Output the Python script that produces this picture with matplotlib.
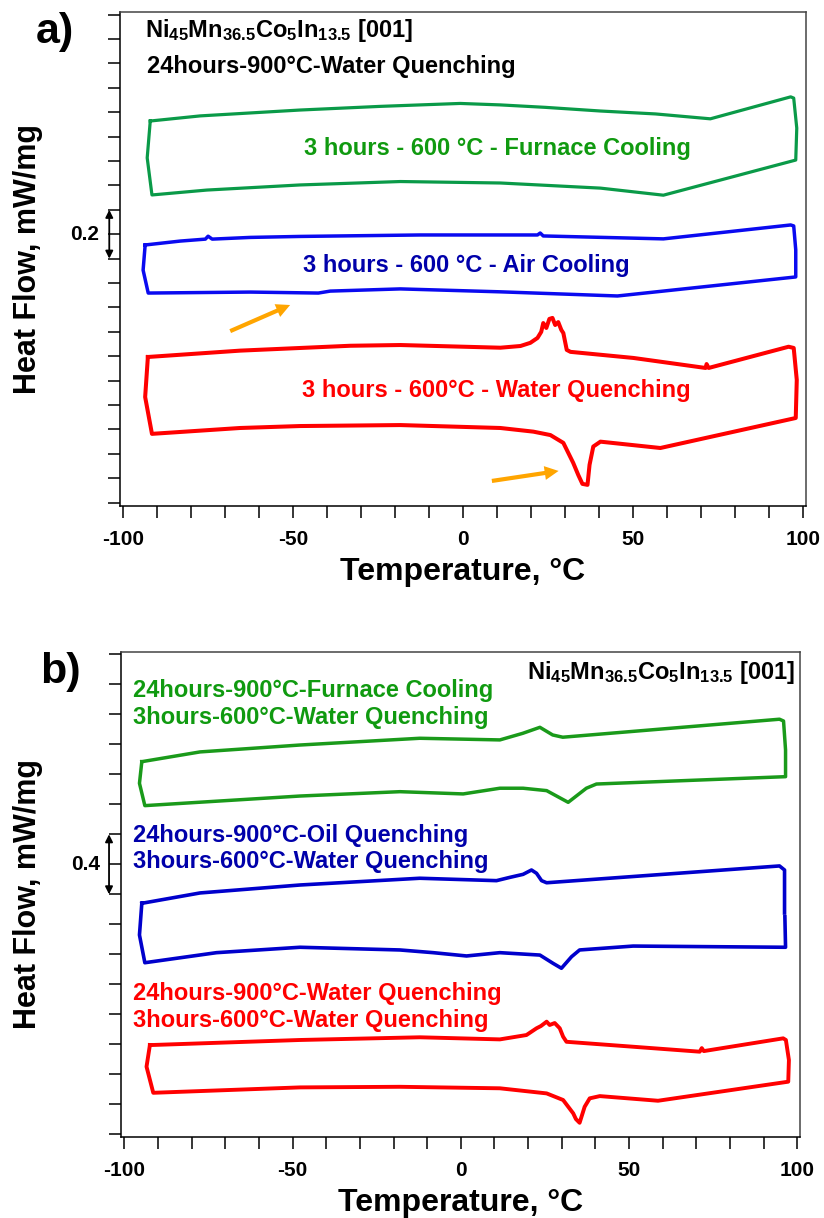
import numpy as np
import matplotlib.pyplot as plt
from matplotlib.ticker import MultipleLocator, NullFormatter

plt.rcParams['font.family'] = ['Liberation Sans', 'DejaVu Sans']
plt.rcParams['font.weight'] = 'bold'
plt.rcParams['mathtext.fontset'] = 'custom'
plt.rcParams['mathtext.rm'] = 'Liberation Sans:bold'
plt.rcParams['mathtext.default'] = 'regular'
plt.rcParams['axes.unicode_minus'] = False

# ---- panel a) : 24h-900C-WQ, then 3h-600C with different cooling ----
# each loop is one closed DSC cycle (upper branch, right end, lower branch, left end)
a_wq_T = [-92.6, -65.5, -33.1, -18.4, 11.0, 16.9, 19.8, 21.9, 23.0, 23.6, 24.5, 25.4, 26.3, 27.1, 28.0,
          28.9, 29.5, 30.5, 31.6, 50.1, 71.3, 71.6, 72.2, 95.7, 97.2, 98.1, 97.8, 58.0, 40.4, 38.3,
          37.2, 36.6, 35.1, 33.9, 32.4, 29.5, 25.7, 20.7, 11.0, -18.4, -47.9, -65.5, -91.4, -93.4, -92.6]
a_wq_HF = [0.597, 0.623, 0.643, 0.646, 0.635, 0.642, 0.655, 0.675, 0.700, 0.736, 0.716, 0.753, 0.757, 0.728, 0.740,
           0.708, 0.695, 0.626, 0.618, 0.593, 0.552, 0.568, 0.552, 0.639, 0.634, 0.503, 0.347, 0.224, 0.250, 0.230,
           0.155, 0.073, 0.077, 0.113, 0.163, 0.245, 0.277, 0.291, 0.306, 0.318, 0.314, 0.306, 0.282, 0.433, 0.597]

a_ac_T = [-93.4, -83.1, -75.7, -74.9, -73.7, -62.5, -47.9, -12.6, 21.9, 22.7, 23.6, 58.9, 96.3, 97.2,
          97.8, 97.8, 45.4, 11.0, -18.4, -39.0, -42.5, -62.5, -92.5, -94.0, -93.4]
a_ac_HF = [1.056, 1.072, 1.080, 1.092, 1.080, 1.087, 1.091, 1.097, 1.097, 1.105, 1.093, 1.081, 1.138, 1.134,
           1.036, 0.925, 0.847, 0.864, 0.876, 0.867, 0.859, 0.863, 0.859, 0.953, 1.056]

a_fc_T = [-91.9, -77.2, -47.9, -24.3, -12.6, -0.8, 11.0, 24.2, 40.4, 56.6, 72.7, 96.3, 97.2, 98.1, 97.8,
          58.9, 40.4, 11.0, -18.4, -47.9, -75.3, -91.4, -92.8, -91.9]
a_fc_HF = [1.564, 1.585, 1.609, 1.624, 1.630, 1.636, 1.630, 1.620, 1.605, 1.593, 1.573, 1.663, 1.658, 1.535, 1.404,
           1.260, 1.289, 1.310, 1.316, 1.302, 1.281, 1.261, 1.413, 1.564]

# ---- panel b) : 3h-600C-WQ after different 900C treatments ----
b_fc_T = [-94.8, -77.5, -47.8, -12.2, 11.6, 18.4, 23.5, 27.3, 30.3, 94.7, 95.9, 96.5, 96.5, 40.3, 37.3,
          31.9, 25.5, 18.5, 11.6, 0.7, -18.1, -47.8, -93.9, -95.5, -94.8]
b_fc_HF = [2.484, 2.549, 2.595, 2.640, 2.629, 2.673, 2.713, 2.662, 2.647, 2.767, 2.755, 2.562, 2.384, 2.335, 2.307,
           2.213, 2.291, 2.307, 2.307, 2.269, 2.284, 2.255, 2.191, 2.340, 2.484]

b_oq_T = [-94.8, -77.5, -47.8, -12.2, 10.6, 14.6, 18.5, 21.0, 22.5, 24.0, 25.5, 94.7, 96.2, 96.2, np.nan,
          96.3, 96.5, 51.2, 35.3, 32.9, 29.9, 27.4, 23.5, 11.6, 1.7, -8.2, -18.1, -47.8, -72.6, -93.9, -95.5, -94.8]
b_oq_HF = [1.540, 1.609, 1.662, 1.707, 1.691, 1.713, 1.733, 1.762, 1.740, 1.691, 1.677, 1.789, 1.762, 1.475, np.nan,
           1.450, 1.247, 1.255, 1.229, 1.184, 1.107, 1.140, 1.195, 1.211, 1.189, 1.211, 1.229, 1.247, 1.211, 1.144, 1.329, 1.540]

b_wq_T = [-92.4, -47.8, -12.2, 11.6, 19.5, 22.5, 23.8, 25.5, 26.4, 27.9, 29.4, 30.4, 31.4, 71.0, 71.6, 72.2,
          95.8, 96.6, 97.5, 97.3, 58.6, 41.3, 38.3, 36.8, 35.3, 34.2, 33.4, 30.4, 25.5, 11.6, -18.1, -47.8,
          -91.4, -93.4, -92.4]
b_wq_HF = [0.595, 0.629, 0.647, 0.633, 0.662, 0.707, 0.722, 0.751, 0.729, 0.742, 0.707, 0.651, 0.617, 0.551, 0.575, 0.555,
           0.640, 0.629, 0.495, 0.351, 0.224, 0.255, 0.240, 0.184, 0.077, 0.102, 0.140, 0.229, 0.273, 0.307, 0.317, 0.313,
           0.277, 0.451, 0.595]

# orange guide arrows in panel a (tail, head)
arrow1 = [(-68.4, 0.703), (-50.8, 0.810)]
arrow2 = [(8.5, 0.089), (28.1, 0.130)]

GREEN_A, GREEN_B = '#0a9a48', '#1a9a1a'
BLUE_A, BLUE_B = '#0a0af0', '#0000cc'
RED = '#ff0000'
GREEN_T, BLUE_T = '#109a10', '#0000aa'


def style_axes(ax, xlim, ylim, ystep):
    ax.set_xlim(*xlim)
    ax.set_ylim(*ylim)
    ax.xaxis.set_major_locator(MultipleLocator(50))
    ax.xaxis.set_minor_locator(MultipleLocator(10))
    ax.yaxis.set_major_locator(MultipleLocator(ystep))
    ax.yaxis.set_major_formatter(NullFormatter())
    ax.tick_params(which='both', direction='out', length=8.3, width=1.1, top=False, right=False)
    ax.tick_params(axis='x', labelsize=15, pad=9)
    for s in ax.spines.values():
        s.set_linewidth(1.1)
    ax.spines['top'].set_color('#444444')
    ax.spines['right'].set_color('#444444')
    ax.set_xlabel('Temperature, °C', fontsize=23, fontweight='bold', labelpad=6)
    ax.set_ylabel('Heat Flow, mW/mg', fontsize=22, fontweight='bold')


def scale_bar(ax, x, y0, y1, label, lx):
    tr = ax.get_yaxis_transform()
    ax.annotate('', xy=(x, y0), xytext=(x, y1), xycoords=tr, textcoords=tr,
                arrowprops=dict(arrowstyle='<|-|>', color='black', lw=1.3,
                                mutation_scale=11, shrinkA=0, shrinkB=0),
                annotation_clip=False)
    ax.text(lx, (y0 + y1) / 2, label, transform=tr, ha='right', va='center',
            fontsize=15, fontweight='bold')


fig = plt.figure(figsize=(8.24, 12.18), dpi=100)

# ------------------ a) ------------------
ax1 = fig.add_axes([0.1456, 0.5846, 0.8325, 0.4056])
ax1.plot(a_fc_T, a_fc_HF, color=GREEN_A, lw=2.3)
ax1.plot(a_ac_T, a_ac_HF, color=BLUE_A, lw=2.5)
ax1.plot(a_wq_T, a_wq_HF, color=RED, lw=2.9)
style_axes(ax1, (-100.8, 100.8), (-0.0135, 2.011), 0.1)
ax1.yaxis.set_label_coords(-0.112, 0.5)
scale_bar(ax1, -0.0156, 1.0, 1.2, '0.2', -0.0306)

ax1.text(-93.4, 1.910, 'Ni$_{45}$Mn$_{36.5}$Co$_{5}$In$_{13.5}$ [001]', fontsize=17,
         fontweight='bold', ha='left', va='baseline')
ax1.text(-92.8, 1.761, '24hours-900°C-Water Quenching', fontsize=17,
         fontweight='bold', ha='left', va='baseline')
ax1.text(10.2, 1.425, '3 hours - 600 °C - Furnace Cooling', color=GREEN_T, fontsize=17,
         fontweight='bold', ha='center', va='baseline')
ax1.text(1.1, 0.945, '3 hours - 600 °C - Air Cooling', color=BLUE_T, fontsize=17,
         fontweight='bold', ha='center', va='baseline')
ax1.text(9.7, 0.434, '3 hours - 600°C - Water Quenching', color=RED, fontsize=17,
         fontweight='bold', ha='center', va='baseline')

for tail, head in (arrow1, arrow2):
    ax1.annotate('', xy=head, xytext=tail,
                 arrowprops=dict(facecolor='#ffa500', edgecolor='none', width=3,
                                 headwidth=10, headlength=10, shrink=0))

fig.text(0.066, 0.974, 'a)', fontsize=31, fontweight='bold', ha='center', va='center')

# ------------------ b) ------------------
ax2 = fig.add_axes([0.1465, 0.0667, 0.8244, 0.398])
ax2.plot(b_fc_T, b_fc_HF, color=GREEN_B, lw=2.5)
ax2.plot(b_oq_T, b_oq_HF, color=BLUE_B, lw=2.6)
ax2.plot(b_wq_T, b_wq_HF, color=RED, lw=2.8)
style_axes(ax2, (-101.07, 100.8), (-0.016, 3.215), 0.2)
ax2.yaxis.set_label_coords(-0.1144, 0.5)
scale_bar(ax2, -0.0172, 1.6, 2.0, '0.4', -0.0305)

ax2.text(99.2, 3.033, 'Ni$_{45}$Mn$_{36.5}$Co$_{5}$In$_{13.5}$ [001]', fontsize=17,
         fontweight='bold', ha='right', va='baseline')
ax2.text(-97.3, 2.917, '24hours-900°C-Furnace Cooling', color=GREEN_T, fontsize=17,
         fontweight='bold', ha='left', va='baseline')
ax2.text(-97.3, 2.735, '3hours-600°C-Water Quenching', color=GREEN_T, fontsize=17,
         fontweight='bold', ha='left', va='baseline')
ax2.text(-97.3, 1.951, '24hours-900°C-Oil Quenching', color=BLUE_T, fontsize=17,
         fontweight='bold', ha='left', va='baseline')
ax2.text(-97.3, 1.777, '3hours-600°C-Water Quenching', color=BLUE_T, fontsize=17,
         fontweight='bold', ha='left', va='baseline')
ax2.text(-97.3, 0.895, '24hours-900°C-Water Quenching', color=RED, fontsize=17,
         fontweight='bold', ha='left', va='baseline')
ax2.text(-97.3, 0.717, '3hours-600°C-Water Quenching', color=RED, fontsize=17,
         fontweight='bold', ha='left', va='baseline')

fig.text(0.074, 0.448, 'b)', fontsize=31, fontweight='bold', ha='center', va='center')

fig.savefig('out.png', dpi=100)
